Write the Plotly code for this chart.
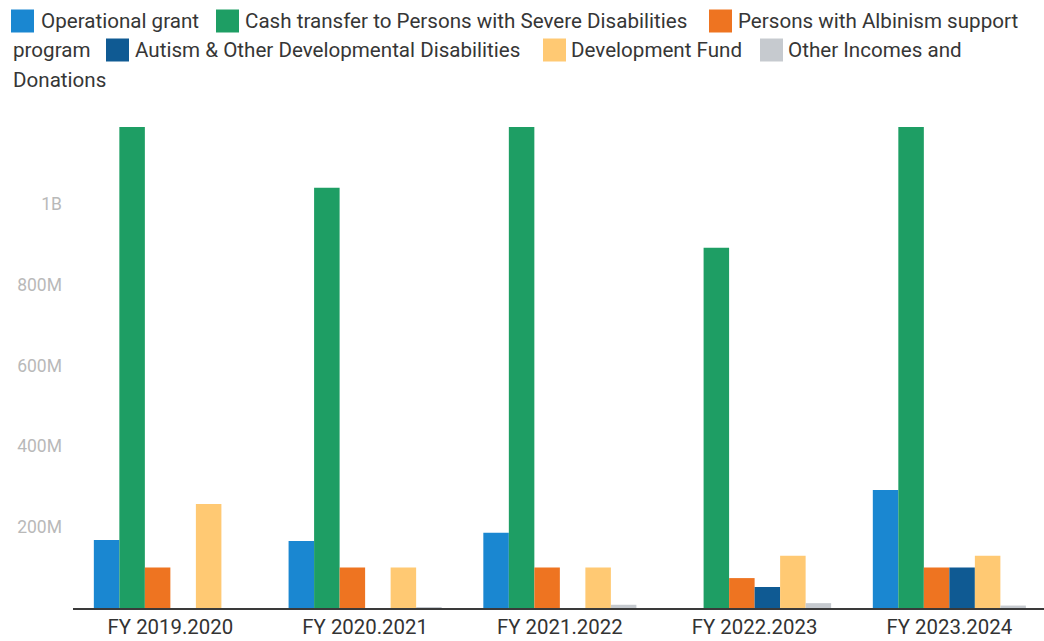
import plotly.graph_objects as go

# Fiscal years on the category axis
years = ["FY 2019.2020", "FY 2020.2021", "FY 2021.2022", "FY 2022.2023", "FY 2023.2024"]

# Funding per source (in shillings)
operational_grant = [168e6, 166e6, 186e6, 0, 292e6]
cash_transfer = [1.19e9, 1.04e9, 1.19e9, 0.891e9, 1.19e9]
albinism_support = [100e6, 100e6, 100e6, 74e6, 100e6]
autism_dev = [0, 0, 0, 52e6, 100e6]
development_fund = [257e6, 100e6, 100e6, 129e6, 129e6]
other_incomes = [0, 2e6, 8e6, 12e6, 6e6]

series_names = [
    "Operational grant",
    "Cash transfer to Persons with Severe Disabilities",
    "Persons with Albinism support program",
    "Autism & Other Developmental Disabilities",
    "Development Fund",
    "Other Incomes and Donations",
]
series_values = [operational_grant, cash_transfer, albinism_support,
                 autism_dev, development_fund, other_incomes]
colors = ["#1A87D1", "#1E9E64", "#EE7421", "#0F5A93", "#FFC973", "#C6CACF"]

W, H = 1044, 641
ML, MR, MT, MB = 73, 0, 127, 33
PW, PH = W - ML - MR, H - MT - MB

fig = go.Figure()
for name, vals, col in zip(series_names, series_values, colors):
    fig.add_trace(go.Bar(x=years, y=vals, name=name, marker_color=col,
                         marker_line_width=0))


def px(x):
    return (x - ML) / PW


def py(y):
    return (H - MB - y) / PH


# Hand-laid legend that wraps like flowing text
font = dict(family="Roboto, sans-serif", size=20.6, color="#363636")
legend_items = [
    # (square colour or None, square left, text left, line centre, text)
    (colors[0], 11, 39, 21, "Operational grant"),
    (colors[1], 216, 243, 21, "Cash transfer to Persons with Severe Disabilities"),
    (colors[2], 709, 736, 21, "Persons with Albinism support"),
    (None, None, 11, 50, "program"),
    (colors[3], 106, 133, 50, "Autism & Other Developmental Disabilities"),
    (colors[4], 543, 569, 50, "Development Fund"),
    (colors[5], 760, 786, 50, "Other Incomes and"),
    (None, None, 11, 80, "Donations"),
]
sq = 23
for col, sx, tx, cy, text in legend_items:
    if col is not None:
        fig.add_shape(type="rect", xref="paper", yref="paper",
                      x0=px(sx), x1=px(sx + sq), y0=py(cy + sq / 2), y1=py(cy - sq / 2),
                      fillcolor=col, line_width=0, layer="above")
    fig.add_annotation(xref="paper", yref="paper", x=px(tx), y=py(cy),
                       xanchor="left", yanchor="middle", text=text,
                       showarrow=False, font=font)

fig.update_layout(
    width=W, height=H, autosize=False,
    margin=dict(l=ML, r=MR, t=MT, b=MB, pad=0),
    paper_bgcolor="white", plot_bgcolor="white",
    barmode="group", bargap=0.214, bargroupgap=0,
    showlegend=False,
    font=dict(family="Roboto, sans-serif"),
)
fig.update_xaxes(
    range=[-0.5, 4.486], showgrid=False, zeroline=False,
    showline=True, linecolor="#3a3a3a", linewidth=1.5,
    tickfont=dict(size=20.4, color="#333333"), ticks="",
)
fig.update_yaxes(
    range=[0, 1.19e9], tickvals=[200e6, 400e6, 600e6, 800e6, 1e9],
    ticktext=["200M", "400M", "600M", "800M", "1B"],
    showgrid=False, zeroline=False, showline=False,
    tickfont=dict(size=17.5, color="#b9b9b9"), ticks="", ticklabelstandoff=10,
)

fig.write_html("out.html")
